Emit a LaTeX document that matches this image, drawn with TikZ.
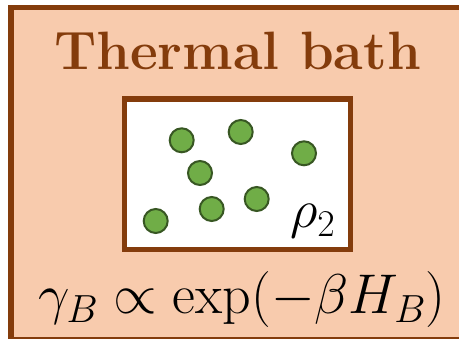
\RequirePackage{fix-cm}
\documentclass[tikz,border=0pt]{standalone}
\definecolor{bathfill}{RGB}{248,203,173}
\definecolor{bathbrown}{RGB}{132,60,12}
\definecolor{partfill}{RGB}{112,173,71}
\definecolor{partdraw}{RGB}{56,87,35}
\tikzset{
  particle/.style={circle, fill=partfill, draw=partdraw, line width=2pt, minimum size=24pt, inner sep=0pt},
  bigtext/.style={anchor=base, inner sep=0pt},
}
\begin{document}
\begin{tikzpicture}[x=1pt,y=-1pt]
\useasboundingbox (0,0) rectangle (459,339);
\clip (0,0) rectangle (459,339);
\draw[bathbrown, fill=bathfill, line width=5.5pt] (11,7.5) rectangle (490,339.5);
\node[bigtext, text=bathbrown, font=\fontsize{54}{60}\selectfont\bfseries] (title) at (237.5,70) {Thermal bath};
\draw[bathbrown, fill=white, line width=5.5pt] (124.5,99) rectangle (350.5,249.5);
\node[particle] (p1) at (181.7,140.3) {};
\node[particle] (p2) at (240.7,132) {};
\node[particle] (p3) at (304,153.3) {};
\node[particle] (p4) at (200,173) {};
\node[particle] (p5) at (256.7,199) {};
\node[particle] (p6) at (211.7,209) {};
\node[particle] (p7) at (155.7,221) {};
\node[bigtext, anchor=base west, font=\fontsize{54}{60}\selectfont] (rho) at (290,228) {$\rho_2$};
\node[bigtext, font=\fontsize{56}{62}\selectfont] (gibbs) at (242,314) {$\gamma_B \propto \exp(-\beta H_B)$};
\end{tikzpicture}
\end{document}
